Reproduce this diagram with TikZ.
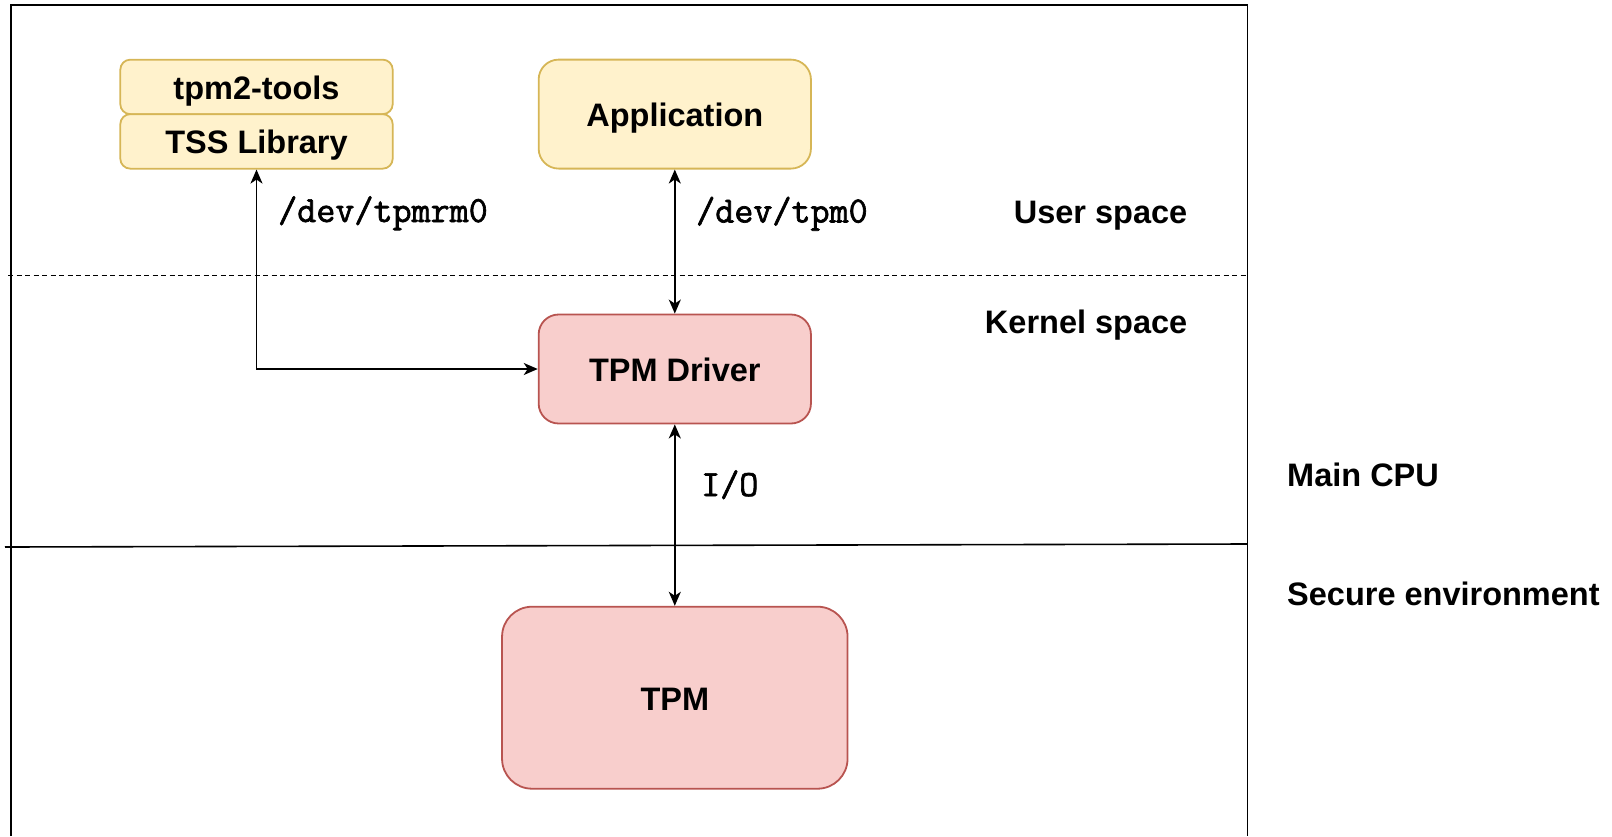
\documentclass[tikz,border=0pt]{standalone}
\usepackage{fontspec}
\setmainfont{Liberation Sans}
\newfontfamily\codefont{Latin Modern Mono}[FakeBold=1.8]
\usetikzlibrary{arrows.meta}
\definecolor{userfill}{HTML}{FFF2CC}
\definecolor{userline}{HTML}{D6B656}
\definecolor{kernfill}{HTML}{F8CECC}
\definecolor{kernline}{HTML}{B85450}
\begin{document}
\begin{tikzpicture}[x=1pt,y=-1pt,
  labelfont/.style={font=\fontsize{32.5}{39}\selectfont\bfseries},
  monofont/.style={font=\fontsize{37}{44}\selectfont\codefont},
  box/.style={draw, line width=1.8pt, inner sep=0pt, align=center, labelfont,
    text height=25pt, text depth=0pt},
  userbox/.style={box, fill=userfill, draw=userline},
  kernbox/.style={box, fill=kernfill, draw=kernline},
  tip/.tip={Stealth[length=14pt,width=12pt,inset=4pt]},
  link/.style={line width=1.8pt, tip-tip},
  zonelabel/.style={inner sep=0pt, labelfont},
  devlabel/.style={inner sep=0pt, monofont},
]
\useasboundingbox (0,0) rectangle (1612,836);

% outer frame and layer separators
\draw[line width=1.6pt] (11,836) -- (11,4.7) -- (1247.5,4.7) -- (1247.5,836);
\draw[line width=1.7pt, dash pattern=on 5pt off 3.5pt] (8,275.5) -- (1247.5,275.5);
\draw[line width=1.6pt] (5,547) -- (1247.5,544);

% user space components
\node[userbox, minimum width=272.4pt, minimum height=54.5pt, rounded corners=10pt]
  (tools) at (256.5,86.9) {tpm2-tools};
\node[userbox, minimum width=272.4pt, minimum height=54.5pt, rounded corners=10pt]
  (tss) at (256.5,141.4) {TSS Library};
\node[userbox, minimum width=272.3pt, minimum height=109pt, rounded corners=20pt]
  (app) at (674.8,114.1) {Application};

% kernel and hardware
\node[kernbox, minimum width=272.3pt, minimum height=109pt, rounded corners=20pt]
  (drv) at (674.8,369) {TPM Driver};
\node[kernbox, minimum width=345.5pt, minimum height=182pt, rounded corners=30pt]
  (tpm) at (674.8,697.7) {TPM};

% connections
\draw[link] (tss.south) |- (drv.west);
\draw[link] (app.south) -- (drv.north);
\draw[link] (drv.south) -- (tpm.north);

% connector labels
\node[devlabel, anchor=base west] (rmlabel) at (278,222) {/dev/tpmrm0};
\node[devlabel, anchor=base west] (tpmlabel) at (696,222.5) {/dev/tpm0};
\node[devlabel, anchor=base west] (iolabel) at (701,496) {I/O};

% layer labels
\node[zonelabel, anchor=base east] (user) at (1187.5,223.5) {User space};
\node[zonelabel, anchor=base east] (kernel) at (1187.5,333.5) {Kernel space};
\node[zonelabel, anchor=base west] (cpu) at (1287,486.5) {Main CPU};
\node[zonelabel, anchor=base west] (secure) at (1287,605) {Secure environment};
\end{tikzpicture}
\end{document}
